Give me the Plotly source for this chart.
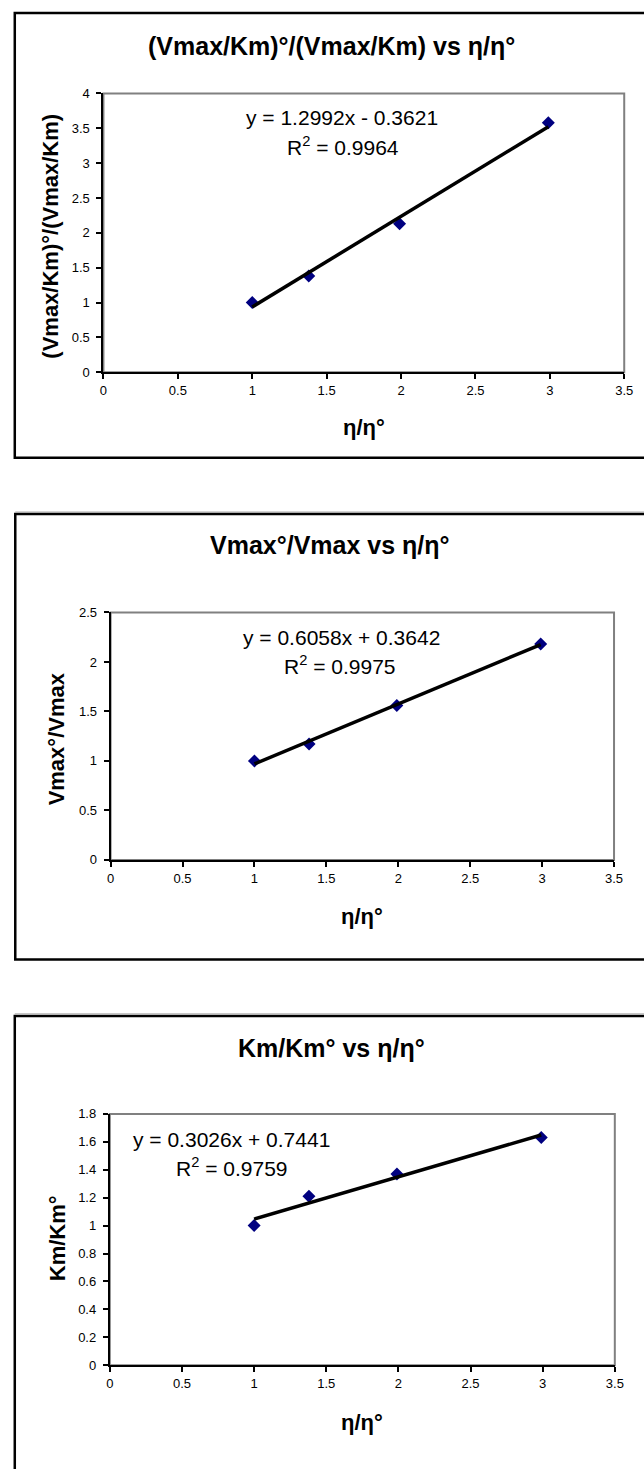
import plotly.graph_objects as go

W, H = 644, 1469
FONT = "Liberation Sans, Arial, sans-serif"

# Relative viscosity η/η° (shared x values for all three plots)
eta_ratio = [1.0, 1.38, 1.99, 2.99]

# Plot 1: (Vmax/Km)°/(Vmax/Km)
eff_ratio = [1.0, 1.38, 2.13, 3.58]
eff_slope, eff_intercept, eff_r2 = 1.2992, -0.3621, 0.9964

# Plot 2: Vmax°/Vmax
vmax_ratio = [1.0, 1.17, 1.56, 2.18]
vmax_slope, vmax_intercept, vmax_r2 = 0.6058, 0.3642, 0.9975

# Plot 3: Km/Km°
km_ratio = [1.0, 1.21, 1.37, 1.63]
km_slope, km_intercept, km_r2 = 0.3026, 0.7441, 0.9759

titles = ["(Vmax/Km)°/(Vmax/Km) vs η/η°", "Vmax°/Vmax vs η/η°", "Km/Km° vs η/η°"]
y_titles = ["(Vmax/Km)°/(Vmax/Km)", "Vmax°/Vmax", "Km/Km°"]
x_title = "η/η°"
y_ranges = [[0, 4], [0, 2.5], [0, 1.8]]
y_dticks = [0.5, 0.5, 0.2]


def px(x):
    return x / W


def py(y):
    return 1 - y / H


def eq_text(m, b):
    sign = "-" if b < 0 else "+"
    return f"y = {m:.4f}x {sign} {abs(b):.4f}"


# Panel geometry in pixels
panels = [
    dict(plot=(101.5, 633, 87.3, 369), box=(11, 6, 455.5), title=(334, 39),
         ytitle=(48, 232), xtitle=(367, 425), eq=(345, 112), r2=(346, 140)),
    dict(plot=(108.8, 622.6, 611.7, 861.7), box=(11.5, 512.3, 962.3), title=(333, 544),
         ytitle=(54, 739), xtitle=(365, 919), eq=(344, 637), r2=(343, 665)),
    dict(plot=(108, 623.4, 1118.3, 1372.3), box=(11, 1019.3, 1500), title=(334, 1052),
         ytitle=(54, 1244), xtitle=(365, 1430), eq=(232, 1144), r2=(233, 1172)),
]

series = [
    (eff_ratio, eff_slope, eff_intercept, eff_r2),
    (vmax_ratio, vmax_slope, vmax_intercept, vmax_r2),
    (km_ratio, km_slope, km_intercept, km_r2),
]

fig = go.Figure()
shapes = []
annotations = []
layout_axes = {}

for i, (p, (yvals, m, b, r2)) in enumerate(zip(panels, series)):
    n = "" if i == 0 else str(i + 1)
    xa, ya = "x" + n, "y" + n
    x0, x1, ytop, ybot = p["plot"]

    fig.add_trace(go.Scatter(
        x=eta_ratio, y=yvals, mode="markers", xaxis=xa, yaxis=ya,
        marker=dict(symbol="diamond", size=10, color="#000080"),
        showlegend=False,
    ))
    tx = [min(eta_ratio), max(eta_ratio)]
    fig.add_trace(go.Scatter(
        x=tx, y=[m * v + b for v in tx], mode="lines", xaxis=xa, yaxis=ya,
        line=dict(color="black", width=3.5), showlegend=False,
    ))

    axis_common = dict(
        showgrid=False, zeroline=False, showline=True, linecolor="black",
        linewidth=2, ticks="outside", ticklen=5, tickwidth=1.5, tickcolor="black",
        tickfont=dict(family=FONT, size=13, color="black"),
    )
    layout_axes["xaxis" + n] = dict(
        axis_common, domain=[px(x0), px(x1)], range=[0, 3.5], dtick=0.5, tick0=0,
        anchor=ya,
    )
    layout_axes["yaxis" + n] = dict(
        axis_common, domain=[py(ybot), py(ytop)], range=y_ranges[i], dtick=y_dticks[i],
        tick0=0, anchor=xa, ticklabelstandoff=4,
    )

    # grey frame on the top and right of the plot area
    shapes.append(dict(
        type="rect", xref=xa + " domain", yref=ya + " domain", x0=0, x1=1, y0=0, y1=1,
        line=dict(color="#808080", width=2), layer="below",
    ))

    # chart border
    bx, btop, bbot = p["box"]
    if i > 0:
        shapes.append(dict(type="line", xref="paper", yref="paper",
                           x0=px(bx), x1=1.05, y0=py(btop - 2.2), y1=py(btop - 2.2),
                           line=dict(color="#b8b8b8", width=1)))
    shapes.append(dict(
        type="rect", xref="paper", yref="paper",
        x0=px(bx), x1=1.05, y0=py(bbot), y1=py(btop),
        line=dict(color="black", width=2.5),
    ))

    annotations += [
        dict(text=f"<b>{titles[i]}</b>", x=px(p["title"][0]), y=py(p["title"][1]),
             font=dict(family=FONT, size=25, color="black")),
        dict(text=f"<b>{y_titles[i]}</b>", x=px(p["ytitle"][0]), y=py(p["ytitle"][1]),
             textangle=-90, font=dict(family=FONT, size=22, color="black")),
        dict(text=f"<b>{x_title}</b>", x=px(p["xtitle"][0]), y=py(p["xtitle"][1]),
             font=dict(family=FONT, size=22, color="black")),
        dict(text=eq_text(m, b), x=px(p["eq"][0]), y=py(p["eq"][1]),
             font=dict(family=FONT, size=21, color="black")),
        dict(text=f"R<sup>2</sup> = {r2:.4f}", x=px(p["r2"][0]), y=py(p["r2"][1]),
             font=dict(family=FONT, size=21, color="black")),
    ]

for a in annotations:
    a.update(xref="paper", yref="paper", xanchor="center", yanchor="middle",
             showarrow=False)

fig.update_layout(
    width=W, height=H, margin=dict(l=0, r=0, t=0, b=0),
    paper_bgcolor="white", plot_bgcolor="white",
    shapes=shapes, annotations=annotations, **layout_axes,
)

fig.write_html("out.html")
